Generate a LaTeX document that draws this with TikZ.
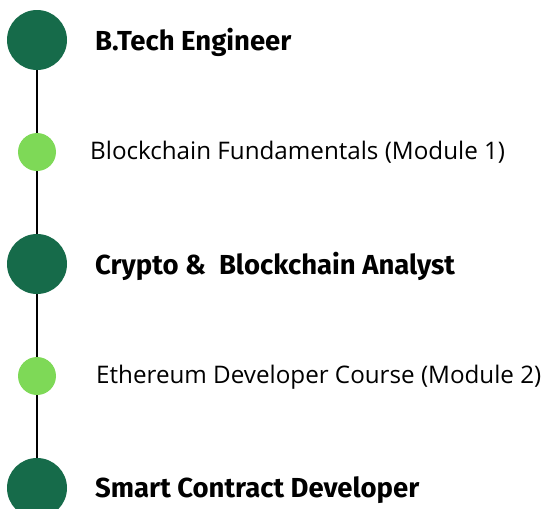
\documentclass[tikz,border=0pt]{standalone}
\usepackage{fontspec}
\setmainfont{Open Sans}
\newfontfamily\headfont{Fira Sans}
\definecolor{darkgreen}{HTML}{166B4A}
\definecolor{lightgreen}{HTML}{7ED957}
\begin{document}
\begin{tikzpicture}[x=1pt,y=-1pt,
  bigdot/.style={circle,fill=darkgreen,minimum size=60pt,inner sep=0pt},
  smalldot/.style={circle,fill=lightgreen,minimum size=38pt,inner sep=0pt},
  headlabel/.style={anchor=west,inner sep=0pt,font=\headfont\bfseries\fontsize{27.5}{32}\selectfont},
  sublabel/.style={anchor=west,inner sep=0pt,font=\fontsize{24.2}{29}\selectfont},
  link/.style={line width=2pt,black}]
\useasboundingbox (0,0) rectangle (544,509);
\clip (0,0) rectangle (544,509);
\coordinate (a) at (37,40);
\coordinate (b) at (37,152);
\coordinate (c) at (37,264);
\coordinate (d) at (37,376);
\coordinate (e) at (37,488);
\draw[link] (a) -- (e);
\node[bigdot] (n1) at (a) {};
\node[smalldot] (n2) at (b) {};
\node[bigdot] (n3) at (c) {};
\node[smalldot] (n4) at (d) {};
\node[bigdot] (n5) at (e) {};
\node[headlabel] (t1) at (95,42) {B.Tech Engineer};
\node[sublabel] (t2) at (90,152) {Blockchain Fundamentals (Module 1)};
\node[headlabel] (t3) at (95,266) {Crypto \&\ \ Blockchain Analyst};
\node[sublabel] (t4) at (96,377) {Ethereum Developer Course (Module 2)};
\node[headlabel] (t5) at (95,490) {Smart Contract Developer};
\end{tikzpicture}
\end{document}
